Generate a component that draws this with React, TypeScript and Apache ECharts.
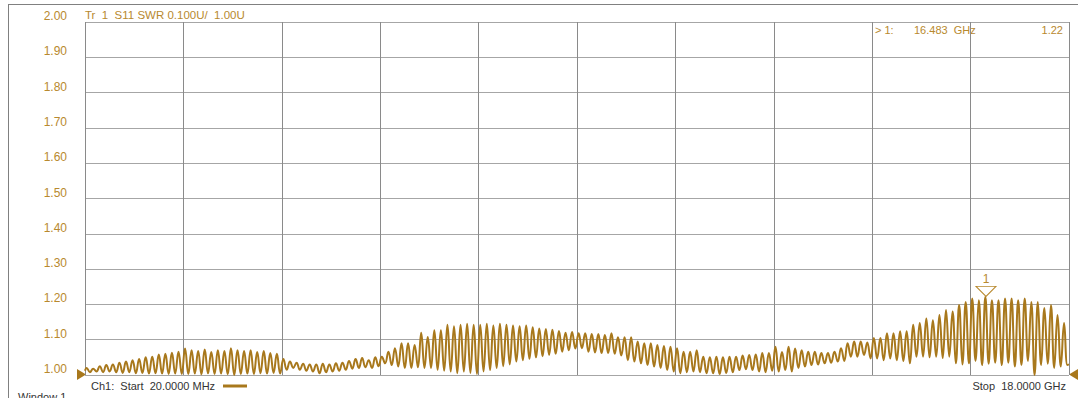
import React, { useEffect, useRef } from "react";
import * as echarts from "echarts";

// Sweep: 20 MHz .. 18 GHz (x axis = offset from start, GHz)
const START_GHZ = 0.02;
const STOP_GHZ = 18.0;
const SPAN = STOP_GHZ - START_GHZ;

// SWR axis
const Y_MIN = 1.0;
const Y_MAX = 2.0;
const Y_STEP = 0.1;

// Peak SWR of each ripple (15 ripples per horizontal division)
const peaks = [
  1.02, 1.018, 1.025, 1.028, 1.03, 1.035, 1.038, 1.042, 1.045, 1.05, 1.052, 1.058, 1.06, 1.063, 1.066,
  1.075, 1.07, 1.068, 1.072, 1.065, 1.07, 1.068, 1.076, 1.07, 1.068, 1.07, 1.065, 1.068, 1.062, 1.06,
  1.045, 1.038, 1.035, 1.032, 1.03, 1.03, 1.032, 1.03, 1.033, 1.035, 1.04, 1.045, 1.048, 1.042, 1.05,
  1.052, 1.066, 1.076, 1.09, 1.09, 1.085, 1.12, 1.108, 1.127, 1.127, 1.142, 1.138, 1.142, 1.145, 1.142,
  1.142, 1.145, 1.14, 1.145, 1.142, 1.14, 1.138, 1.14, 1.135, 1.132, 1.13, 1.128, 1.125, 1.12, 1.122,
  1.118, 1.118, 1.116, 1.116, 1.113, 1.118, 1.107, 1.107, 1.107, 1.095, 1.09, 1.09, 1.085, 1.082, 1.08,
  1.076, 1.066, 1.066, 1.07, 1.052, 1.05, 1.052, 1.05, 1.052, 1.052, 1.055, 1.057, 1.058, 1.062, 1.062,
  1.08, 1.065, 1.08, 1.075, 1.07, 1.066, 1.066, 1.062, 1.062, 1.066, 1.076, 1.09, 1.095, 1.095, 1.092,
  1.105, 1.105, 1.118, 1.118, 1.124, 1.124, 1.142, 1.147, 1.16, 1.155, 1.17, 1.184, 1.18, 1.198, 1.207,
  1.217, 1.212, 1.222, 1.212, 1.212, 1.217, 1.217, 1.212, 1.217, 1.207, 1.207, 1.19, 1.198, 1.17, 1.147,
];

// Trough SWR between ripples
const troughs = [
  1.008, 1.01, 1.008, 1.01, 1.008, 1.006, 1.008, 1.005, 1.006, 1.004, 1.005, 1.004, 1.003, 1.004, 1.003,
  1.003, 1.004, 1.002, 1.005, 1.003, 1.004, 1.002, 1.0, 1.003, 1.004, 1.003, 1.005, 1.004, 1.006, 1.004,
  1.015, 1.02, 1.015, 1.012, 1.01, 1.005, 1.008, 1.01, 1.012, 1.015, 1.018, 1.02, 1.022, 1.02, 1.025,
  1.033, 1.028, 1.024, 1.02, 1.02, 1.022, 1.02, 1.02, 1.015, 1.012, 1.01, 1.005, 1.01, 1.006, 1.003,
  1.01, 1.014, 1.02, 1.025, 1.03, 1.038, 1.042, 1.046, 1.05, 1.053, 1.057, 1.06, 1.066, 1.07, 1.075,
  1.076, 1.066, 1.064, 1.062, 1.062, 1.06, 1.055, 1.042, 1.038, 1.033, 1.028, 1.024, 1.02, 1.014, 1.01,
  1.005, 1.008, 1.01, 1.008, 1.005, 1.005, 1.003, 1.006, 1.008, 1.014, 1.016, 1.014, 1.01, 1.008, 1.012,
  1.01, 1.014, 1.01, 1.02, 1.024, 1.028, 1.03, 1.033, 1.035, 1.038, 1.04, 1.052, 1.052, 1.057, 1.047,
  1.047, 1.042, 1.047, 1.042, 1.04, 1.033, 1.052, 1.052, 1.05, 1.052, 1.048, 1.052, 1.033, 1.03, 1.033,
  1.04, 1.028, 1.032, 1.035, 1.028, 1.035, 1.024, 1.028, 1.04, 1.0, 1.028, 1.032, 1.02, 1.024, 1.028,
];

const START_VALUE = 1.012;
const END_VALUE = 1.03;

// Marker 1
const MARKER_GHZ = 16.483;
const MARKER_SWR = 1.22;

const GOLD = "#a8781c";
const TEXT_GOLD = "#b8892e";
const FONT = "Liberation Sans, Arial, sans-serif";

export default function App() {
  const ref = useRef<HTMLDivElement>(null);

  useEffect(() => {
    if (!ref.current) return;
    const chart = echarts.init(ref.current, undefined, { renderer: "svg" });

    const n = peaks.length;
    const half = SPAN / (2 * n);
    const data: [number, number][] = [[0, START_VALUE]];
    for (let k = 0; k < n; k++) {
      data.push([(2 * k + 0.5) * half, peaks[k]]);
      data.push([(2 * k + 1.5) * half, troughs[k]]);
    }
    data.push([SPAN, END_VALUE]);

    chart.setOption({
      animation: false,
      backgroundColor: "#ffffff",
      grid: { left: 85, right: 9, top: 22, bottom: 23, containLabel: false },
      xAxis: {
        type: "value",
        min: 0,
        max: SPAN,
        interval: SPAN / 10,
        axisLine: { show: false },
        axisTick: { show: false },
        axisLabel: { show: false },
        splitLine: { show: true, lineStyle: { color: "#8a8a8a", width: 1 } },
      },
      yAxis: {
        type: "value",
        min: Y_MIN,
        max: Y_MAX,
        interval: Y_STEP,
        axisLine: { show: false },
        axisTick: { show: false },
        axisLabel: {
          show: true,
          margin: 18,
          color: TEXT_GOLD,
          fontSize: 12,
          fontFamily: FONT,
          verticalAlign: "bottom",
          formatter: (v: number) => v.toFixed(2),
        },
        splitLine: { show: true, lineStyle: { color: "#a6a6a6", width: 1 } },
      },
      series: [
        {
          type: "line",
          data,
          smooth: 0.45,
          showSymbol: false,
          clip: true,
          lineStyle: { color: GOLD, width: 2 },
          markPoint: {
            silent: true,
            data: [
              {
                coord: [MARKER_GHZ - START_GHZ, MARKER_SWR],
                symbol: "triangle",
                symbolRotate: 180,
                symbolSize: [20, 10],
                symbolOffset: [0, -6],
                itemStyle: { color: "#ffffff", borderColor: TEXT_GOLD, borderWidth: 1 },
                label: {
                  show: true,
                  position: "top",
                  distance: 1,
                  formatter: "1",
                  color: TEXT_GOLD,
                  fontSize: 12,
                  fontFamily: FONT,
                },
              },
            ],
          },
        },
      ],
      graphic: [
        { type: "line", shape: { x1: 8, y1: 4.5, x2: 1078, y2: 4.5 }, style: { stroke: "#808080", lineWidth: 1 } },
        { type: "line", shape: { x1: 8.5, y1: 4, x2: 8.5, y2: 398 }, style: { stroke: "#808080", lineWidth: 1 } },
        {
          type: "text",
          x: 85,
          y: 15,
          style: { text: "Tr  1  S11 SWR 0.100U/  1.00U", fill: TEXT_GOLD, fontSize: 11.5, fontFamily: FONT, verticalAlign: "middle" },
        },
        {
          type: "text",
          x: 875,
          y: 30,
          style: { text: "> 1:", fill: TEXT_GOLD, fontSize: 11, fontFamily: FONT, verticalAlign: "middle" },
        },
        {
          type: "text",
          x: 914,
          y: 30,
          style: { text: "16.483  GHz", fill: TEXT_GOLD, fontSize: 11, fontFamily: FONT, verticalAlign: "middle" },
        },
        {
          type: "text",
          x: 1063,
          y: 30,
          style: { text: "1.22", fill: TEXT_GOLD, fontSize: 11, fontFamily: FONT, align: "right", verticalAlign: "middle" },
        },
        {
          type: "polygon",
          shape: { points: [[77, 369], [86, 374.5], [77, 380]] },
          style: { fill: GOLD },
        },
        {
          type: "polygon",
          shape: { points: [[1078, 369], [1069, 374.5], [1078, 380]] },
          style: { fill: GOLD },
        },
        {
          type: "text",
          x: 91,
          y: 386,
          style: { text: "Ch1:  Start  20.0000 MHz", fill: "#333333", fontSize: 11, fontFamily: FONT, verticalAlign: "middle" },
        },
        { type: "line", shape: { x1: 223, y1: 386, x2: 247, y2: 386 }, style: { stroke: GOLD, lineWidth: 3 } },
        {
          type: "text",
          x: 1066,
          y: 386,
          style: { text: "Stop  18.0000 GHz", fill: "#333333", fontSize: 11, fontFamily: FONT, align: "right", verticalAlign: "middle" },
        },
        {
          type: "text",
          x: 18,
          y: 391,
          style: { text: "Window 1", fill: "#333333", fontSize: 11, fontFamily: FONT, verticalAlign: "top" },
        },
      ],
    });

    return () => chart.dispose();
  }, []);

  return (
    <div
      ref={ref}
      style={{ position: "fixed", left: 0, top: 0, width: 1078, height: 398, background: "#fff" }}
    />
  );
}
